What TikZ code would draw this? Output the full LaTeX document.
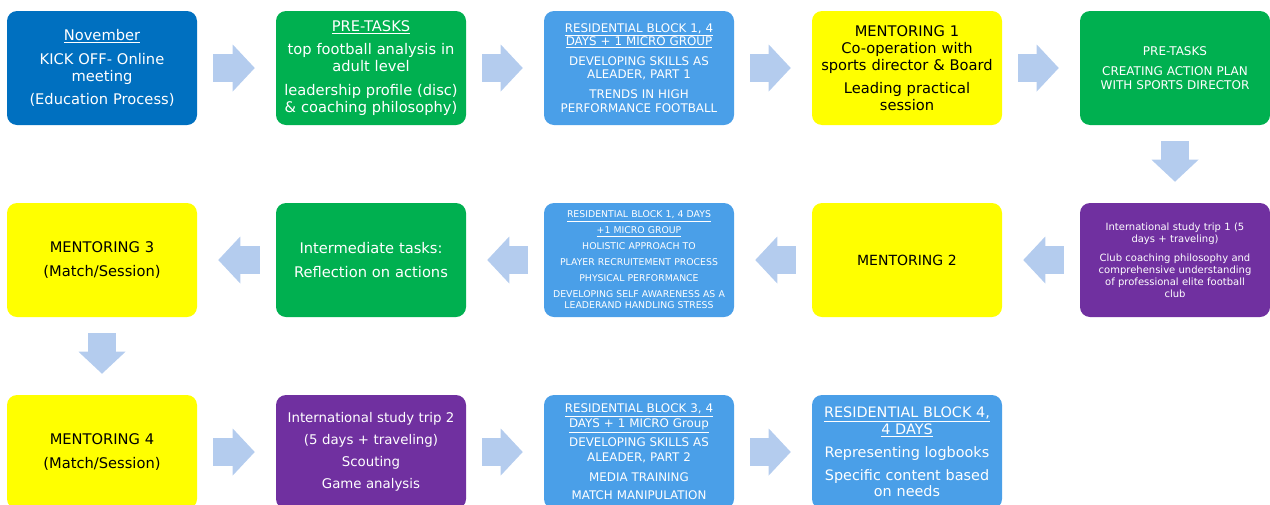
\documentclass[tikz,border=0pt]{standalone}
\usepackage{fontspec}
\setmainfont{DejaVu Sans}
\usetikzlibrary{arrows.meta}

\definecolor{kickblue}{HTML}{0070C0}
\definecolor{taskgreen}{HTML}{00B050}
\definecolor{blockblue}{HTML}{4A9FE8}
\definecolor{mentoryellow}{HTML}{FFFF00}
\definecolor{tripurple}{HTML}{7030A0}
\definecolor{flowblue}{HTML}{B4CCEE}

\begin{document}
\begin{tikzpicture}[x=0.75pt,y=-0.75pt,
  box/.style={rectangle,rounded corners=7.5pt,minimum width=142.5pt,minimum height=85.5pt,inner sep=0pt,text width=138pt,align=center},
  kick/.style={box,fill=kickblue,text=white},
  task/.style={box,fill=taskgreen,text=white},
  block/.style={box,fill=blockblue,text=white},
  mentor/.style={box,fill=mentoryellow,text=black},
  trip/.style={box,fill=tripurple,text=white},
  fs/.style 2 args={font=\fontsize{#1}{#2}\selectfont},
  flow/.style={draw=flowblue,line width=21pt,shorten <=12pt,shorten >=15.75pt,-{Triangle[width=35.25pt,length=16.5pt,line width=0pt]}}]
\useasboundingbox (0,0) rectangle (1270,504);
% first row
\node[kick,fs={11}{12.75}] (a1) at (102,68) {\underline{November}\\[5pt] KICK OFF- Online\\ meeting\\[5pt] (Education Process)};
\node[task,fs={11}{12.75}] (a2) at (371,68) {\underline{PRE-TASKS}\\[5pt] top football analysis in\\ adult level\\[5pt] leadership profile (disc)\\ \& coaching philosophy)};
\node[block,fs={8.9}{10}] (a3) at (639,68) {\underline{RESIDENTIAL BLOCK 1, 4}\\ \underline{DAYS + 1 MICRO GROUP}\\[5pt] DEVELOPING SKILLS AS\\ ALEADER, PART 1\\[5pt] TRENDS IN HIGH\\ PERFORMANCE FOOTBALL};
\node[mentor,fs={11}{13}] (a4) at (907,68) {MENTORING 1\\ Co-operation with\\ sports director \& Board\\[4pt] Leading practical\\ session};
\node[task,fs={9}{10.5}] (a5) at (1175,68) {PRE-TASKS\\[4.5pt] CREATING ACTION PLAN\\ WITH SPORTS DIRECTOR};
% second row
\node[trip,fs={7.5}{9}] (b5) at (1175,260) {International study trip 1 (5\\ days + traveling)\\[5pt] Club coaching philosophy and\\ comprehensive understanding\\ of professional elite football\\ club};
\node[mentor,fs={10.5}{12.75}] (b4) at (907,260) {MENTORING 2};
\node[block,fs={7}{8.25}] (b3) at (639,260) {\underline{RESIDENTIAL BLOCK 1, 4 DAYS}\\[3.75pt] \underline{+1 MICRO GROUP}\\[3.75pt] HOLISTIC APPROACH TO\\[3.75pt] PLAYER RECRUITEMENT PROCESS\\[3.75pt] PHYSICAL PERFORMANCE\\[3.75pt] DEVELOPING SELF AWARENESS AS A\\ LEADERAND HANDLING STRESS};
\node[task,fs={11}{12.75}] (b2) at (371,260) {Intermediate tasks:\\[5pt] Reflection on actions};
\node[mentor,fs={11}{12.75}] (b1) at (102,260) {MENTORING 3\\[5pt] (Match/Session)};
% third row
\node[mentor,fs={11}{12.75}] (c1) at (102,452) {MENTORING 4\\[5pt] (Match/Session)};
\node[trip,fs={10}{12}] (c2) at (371,452) {International study trip 2\\[4.5pt] (5 days + traveling)\\[4.5pt] Scouting\\[4.5pt] Game analysis};
\node[block,fs={8.9}{11.25}] (c3) at (639,452) {\underline{RESIDENTIAL BLOCK 3, 4}\\ \underline{DAYS + 1 MICRO Group}\\[3pt] DEVELOPING SKILLS AS\\ ALEADER, PART 2\\[3.75pt] MEDIA TRAINING\\[2pt] MATCH MANIPULATION};
\node[block,fs={10.8}{12.4}] (c4) at (907,452) {\underline{RESIDENTIAL BLOCK 4,}\\ \underline{4 DAYS}\\[5pt] Representing logbooks\\[5pt] Specific content based\\ on needs};
\foreach \a/\b in {a1/a2,a2/a3,a3/a4,a4/a5,a5/b5,b5/b4,b4/b3,b3/b2,b2/b1,b1/c1,c1/c2,c2/c3,c3/c4}
  \draw[flow] (\a) -- (\b);
\end{tikzpicture}
\end{document}
